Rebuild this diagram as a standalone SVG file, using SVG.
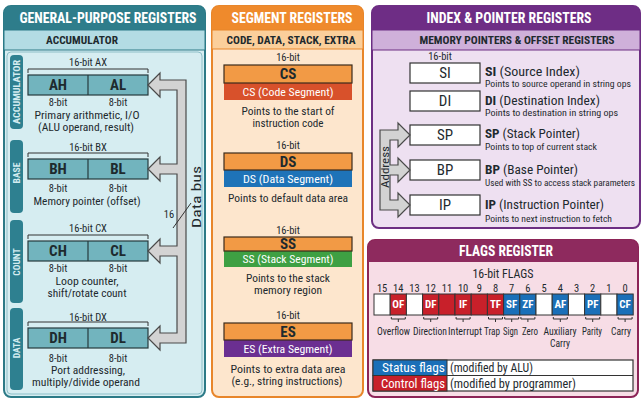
<svg xmlns="http://www.w3.org/2000/svg" width="644" height="401" viewBox="0 0 644 401">
<style>
text{font-family:"Liberation Sans Narrow","Roboto Condensed","DejaVu Sans Condensed","Liberation Sans",sans-serif;fill:#1e2a2e;text-anchor:middle;dominant-baseline:central}
.h{font-size:15px;font-weight:bold;fill:#fff}
.sh{font-size:11.5px;font-weight:bold}
.lb{font-size:10.5px}
.reg{font-size:15px;font-weight:bold}
.d{font-size:11px}
.vb{font-size:9.5px;font-weight:bold;fill:#d3ecf0}
.gr{fill:#72b4be;stroke:#26393d;stroke-width:1.2}
.brk{fill:none;stroke:#333;stroke-width:1}
.bus{fill:#d3d3d3;stroke:#4a4a4a;stroke-width:1.2}
.seg{fill:#f29a45;stroke:#3b2b1b;stroke-width:1.2}
.sw{font-size:11.5px;fill:#fff}
.ib{fill:#fff;stroke:#333;stroke-width:1.2}
.nm{font-size:13px;text-anchor:start}
.sm{font-size:9px;text-anchor:start}
.bit{font-size:10.5px}
.fl{font-size:11px;font-weight:bold;fill:#fff}
.cell{stroke:#333;stroke-width:1}
.fn{font-size:10.5px}
</style>

<!-- GENERAL PURPOSE PANEL -->
<g id="gp-panel">
<rect x="4" y="6" width="201" height="391" rx="7" fill="#d6edf1" stroke="#2c7a87" stroke-width="2"/>
<path d="M4,30 V13 A7,7 0 0 1 11,6 H198 A7,7 0 0 1 205,13 V30 Z" fill="#2e7d8b"/>
<rect x="4" y="30" width="201" height="20" fill="#b3dce4" stroke="#2c7a87" stroke-width="1"/>
<text class="h" x="108" y="18" textLength="177" lengthAdjust="spacingAndGlyphs">GENERAL-PURPOSE REGISTERS</text>
<text class="sh" x="82" y="40" textLength="72" lengthAdjust="spacingAndGlyphs">ACCUMULATOR</text>
<rect x="7" y="52" width="195" height="342" rx="4" fill="none" stroke="#8dbfc8" stroke-width="1"/>
<rect x="10" y="55" width="13" height="74" rx="4" fill="#2e8090"/>
<text class="vb" transform="translate(16.5,92) rotate(-90)" textLength="64" lengthAdjust="spacingAndGlyphs">ACCUMULATOR</text>
<rect x="10" y="140" width="13" height="73" rx="4" fill="#2e8090"/>
<text class="vb" transform="translate(16.5,173) rotate(-90)">BASE</text>
<rect x="10" y="220" width="13" height="83" rx="4" fill="#2e8090"/>
<text class="vb" transform="translate(16.5,262) rotate(-90)">COUNT</text>
<rect x="10" y="308" width="13" height="82" rx="4" fill="#2e8090"/>
<text class="vb" transform="translate(16.5,348) rotate(-90)">DATA</text>
</g>

<g id="reg-ax">
<text class="lb" x="88" y="62">16-bit AX</text>
<path class="brk" d="M28,73 V69 H148 V73"/>
<rect class="gr" x="28" y="75" width="120" height="20"/>
<line x1="88" y1="75" x2="88" y2="95" stroke="#26393d" stroke-width="1.2"/>
<text class="reg" x="58" y="85">AH</text><text class="reg" x="118" y="85">AL</text>
<text class="lb" x="58" y="102">8-bit</text><text class="lb" x="118" y="102">8-bit</text>
<text class="d" x="87" y="115" textLength="105" lengthAdjust="spacingAndGlyphs">Primary arithmetic, I/O</text>
<text class="d" x="86" y="127" textLength="96" lengthAdjust="spacingAndGlyphs">(ALU operand, result)</text>
</g>

<g id="reg-bx">
<text class="lb" x="88" y="147">16-bit BX</text>
<path class="brk" d="M28,157 V153 H148 V157"/>
<rect class="gr" x="28" y="159" width="120" height="20"/>
<line x1="88" y1="159" x2="88" y2="179" stroke="#26393d" stroke-width="1.2"/>
<text class="reg" x="58" y="169">BH</text><text class="reg" x="118" y="169">BL</text>
<text class="lb" x="58" y="188">8-bit</text><text class="lb" x="118" y="188">8-bit</text>
<text class="d" x="87" y="201" textLength="107" lengthAdjust="spacingAndGlyphs">Memory pointer (offset)</text>
</g>

<g id="reg-cx">
<text class="lb" x="88" y="228">16-bit CX</text>
<path class="brk" d="M28,239 V235 H148 V239"/>
<rect class="gr" x="28" y="241" width="120" height="20"/>
<line x1="88" y1="241" x2="88" y2="261" stroke="#26393d" stroke-width="1.2"/>
<text class="reg" x="58" y="251">CH</text><text class="reg" x="118" y="251">CL</text>
<text class="lb" x="58" y="268">8-bit</text><text class="lb" x="118" y="268">8-bit</text>
<text class="d" x="87" y="281.5" textLength="63" lengthAdjust="spacingAndGlyphs">Loop counter,</text>
<text class="d" x="87" y="293.5" textLength="79" lengthAdjust="spacingAndGlyphs">shift/rotate count</text>
</g>

<g id="reg-dx">
<text class="lb" x="88" y="317">16-bit DX</text>
<path class="brk" d="M28,326 V322 H148 V326"/>
<rect class="gr" x="28" y="328" width="120" height="20"/>
<line x1="88" y1="328" x2="88" y2="348" stroke="#26393d" stroke-width="1.2"/>
<text class="reg" x="58" y="338">DH</text><text class="reg" x="118" y="338">DL</text>
<text class="lb" x="58" y="358">8-bit</text><text class="lb" x="118" y="358">8-bit</text>
<text class="d" x="88" y="370" textLength="74" lengthAdjust="spacingAndGlyphs">Port addressing,</text>
<text class="d" x="86" y="382" textLength="108" lengthAdjust="spacingAndGlyphs">multiply/divide operand</text>
</g>

<!-- SEGMENT PANEL -->
<g id="seg-panel">
<rect x="212" y="6" width="151" height="391" rx="7" fill="#fde6cd" stroke="#e8862a" stroke-width="2"/>
<path d="M212,30 V13 A7,7 0 0 1 219,6 H356 A7,7 0 0 1 363,13 V30 Z" fill="#ef8a2c"/>
<rect x="212" y="30" width="151" height="19" fill="#fbcf9b" stroke="#e8862a" stroke-width="1"/>
<text class="h" x="292" y="18" textLength="121" lengthAdjust="spacingAndGlyphs">SEGMENT REGISTERS</text>
<text class="sh" x="291" y="40" textLength="129" lengthAdjust="spacingAndGlyphs">CODE, DATA, STACK, EXTRA</text>
</g>

<g id="seg-cs">
<text class="lb" x="288" y="57">16-bit</text>
<rect x="224" y="83" width="128" height="17" fill="#d8512b"/>
<rect class="seg" x="224" y="65" width="128" height="18"/>
<text class="reg" x="288" y="74">CS</text>
<text class="sw" x="288" y="92" textLength="91" lengthAdjust="spacingAndGlyphs">CS (Code Segment)</text>
<text class="d" x="288" y="111" textLength="93" lengthAdjust="spacingAndGlyphs">Points to the start of</text>
<text class="d" x="288" y="123" textLength="71" lengthAdjust="spacingAndGlyphs">instruction code</text>
</g>

<g id="seg-ds">
<text class="lb" x="288" y="145">16-bit</text>
<rect x="224" y="170" width="128" height="17" fill="#1e73b8"/>
<rect class="seg" x="224" y="153" width="128" height="17"/>
<text class="reg" x="288" y="161.5">DS</text>
<text class="sw" x="288" y="179" textLength="90" lengthAdjust="spacingAndGlyphs">DS (Data Segment)</text>
<text class="d" x="288" y="198" textLength="120" lengthAdjust="spacingAndGlyphs">Points to default data area</text>
</g>

<g id="seg-ss">
<text class="lb" x="288" y="230">16-bit</text>
<rect x="224" y="251" width="128" height="16" fill="#3ea043"/>
<rect class="seg" x="224" y="237" width="128" height="14"/>
<text class="reg" x="288" y="244">SS</text>
<text class="sw" x="288" y="259" textLength="91" lengthAdjust="spacingAndGlyphs">SS (Stack Segment)</text>
<text class="d" x="288" y="278" textLength="84" lengthAdjust="spacingAndGlyphs">Points to the stack</text>
<text class="d" x="288" y="290" textLength="68" lengthAdjust="spacingAndGlyphs">memory region</text>
</g>

<g id="seg-es">
<text class="lb" x="288" y="315">16-bit</text>
<rect x="224" y="340" width="128" height="17" fill="#6b2f91"/>
<rect class="seg" x="224" y="323" width="128" height="17"/>
<text class="reg" x="288" y="331.5">ES</text>
<text class="sw" x="288" y="349" textLength="89" lengthAdjust="spacingAndGlyphs">ES (Extra Segment)</text>
<text class="d" x="288" y="369" textLength="115" lengthAdjust="spacingAndGlyphs">Points to extra data area</text>
<text class="d" x="287" y="381" textLength="111" lengthAdjust="spacingAndGlyphs">(e.g., string instructions)</text>
</g>

<!-- INDEX & POINTER PANEL -->
<g id="ip-panel">
<rect x="372" y="6" width="268" height="222" rx="7" fill="#eee0f1" stroke="#6d2f83" stroke-width="2"/>
<path d="M372,30 V13 A7,7 0 0 1 379,6 H633 A7,7 0 0 1 640,13 V30 Z" fill="#6e2d85"/>
<rect x="372" y="30" width="268" height="20" fill="#cfb0da" stroke="#6d2f83" stroke-width="1"/>
<text class="h" x="509" y="18" textLength="165" lengthAdjust="spacingAndGlyphs">INDEX &amp; POINTER REGISTERS</text>
<text class="sh" x="517" y="40" textLength="195" lengthAdjust="spacingAndGlyphs">MEMORY POINTERS &amp; OFFSET REGISTERS</text>
<text class="lb" x="440" y="56">16-bit</text>
</g>

<g id="reg-si">
<rect class="ib" x="410" y="63" width="70" height="20"/>
<text class="reg" x="445" y="73" style="font-weight:normal">SI</text>
<text class="nm" x="485" y="71" textLength="95" lengthAdjust="spacingAndGlyphs"><tspan font-weight="bold">SI</tspan> (Source Index)</text>
<text class="sm" x="485" y="84" textLength="146" lengthAdjust="spacingAndGlyphs">Points to source operand in string ops</text>
</g>
<g id="reg-di">
<rect class="ib" x="410" y="91" width="70" height="20"/>
<text class="reg" x="445" y="101" style="font-weight:normal">DI</text>
<text class="nm" x="485" y="100" textLength="115" lengthAdjust="spacingAndGlyphs"><tspan font-weight="bold">DI</tspan> (Destination Index)</text>
<text class="sm" x="485" y="113" textLength="133" lengthAdjust="spacingAndGlyphs">Points to destination in string ops</text>
</g>
<g id="reg-sp">
<rect class="ib" x="410" y="125" width="70" height="20"/>
<text class="reg" x="445" y="135" style="font-weight:normal">SP</text>
<text class="nm" x="485" y="133" textLength="95" lengthAdjust="spacingAndGlyphs"><tspan font-weight="bold">SP</tspan> (Stack Pointer)</text>
<text class="sm" x="485" y="147" textLength="112" lengthAdjust="spacingAndGlyphs">Points to top of current stack</text>
</g>
<g id="reg-bp">
<rect class="ib" x="410" y="160" width="70" height="20"/>
<text class="reg" x="445" y="170" style="font-weight:normal">BP</text>
<text class="nm" x="485" y="169" textLength="93" lengthAdjust="spacingAndGlyphs"><tspan font-weight="bold">BP</tspan> (Base Pointer)</text>
<text class="sm" x="485" y="183" textLength="150" lengthAdjust="spacingAndGlyphs">Used with SS to access stack parameters</text>
</g>
<g id="reg-ip">
<rect class="ib" x="410" y="195" width="70" height="20"/>
<text class="reg" x="445" y="205" style="font-weight:normal">IP</text>
<text class="nm" x="485" y="204" textLength="119" lengthAdjust="spacingAndGlyphs"><tspan font-weight="bold">IP</tspan> (Instruction Pointer)</text>
<text class="sm" x="485" y="219" textLength="127" lengthAdjust="spacingAndGlyphs">Points to next instruction to fetch</text>
</g>

<!-- FLAGS PANEL -->
<g id="flags-panel">
<rect x="368" y="240" width="270" height="157" rx="7" fill="#f7dde6" stroke="#8c2457" stroke-width="2"/>
<path d="M368,262 V247 A7,7 0 0 1 375,240 H631 A7,7 0 0 1 638,247 V262 Z" fill="#8e2a5e"/>
<text class="h" x="506" y="251" textLength="94" lengthAdjust="spacingAndGlyphs">FLAGS REGISTER</text>
<text class="sh" x="503" y="274" style="font-size:12px;font-weight:normal" textLength="61" lengthAdjust="spacingAndGlyphs">16-bit FLAGS</text>
</g>

<g id="flags-bits">
<text class="bit" x="382.1" y="288">15</text>
<text class="bit" x="398.3" y="288">14</text>
<text class="bit" x="414.5" y="288">13</text>
<text class="bit" x="430.7" y="288">12</text>
<text class="bit" x="446.9" y="288">11</text>
<text class="bit" x="463.1" y="288">10</text>
<text class="bit" x="479.3" y="288">9</text>
<text class="bit" x="495.5" y="288">8</text>
<text class="bit" x="511.7" y="288">7</text>
<text class="bit" x="527.9" y="288">6</text>
<text class="bit" x="544.1" y="288">5</text>
<text class="bit" x="560.3" y="288">4</text>
<text class="bit" x="576.5" y="288">3</text>
<text class="bit" x="592.7" y="288">2</text>
<text class="bit" x="608.9" y="288">1</text>
<text class="bit" x="625.1" y="288">0</text>
<rect class="cell" x="374" y="294" width="16.2" height="21" fill="#fff"/>
<rect class="cell" x="390.2" y="294" width="16.2" height="21" fill="#c8202a"/>
<rect class="cell" x="406.4" y="294" width="16.2" height="21" fill="#fff"/>
<rect class="cell" x="422.6" y="294" width="16.2" height="21" fill="#c8202a"/>
<rect class="cell" x="438.8" y="294" width="16.2" height="21" fill="#c8202a"/>
<rect class="cell" x="455" y="294" width="16.2" height="21" fill="#c8202a"/>
<rect class="cell" x="471.2" y="294" width="16.2" height="21" fill="#c8202a"/>
<rect class="cell" x="487.4" y="294" width="16.2" height="21" fill="#c8202a"/>
<rect class="cell" x="503.6" y="294" width="16.2" height="21" fill="#1a6fb8"/>
<rect class="cell" x="519.8" y="294" width="16.2" height="21" fill="#1a6fb8"/>
<rect class="cell" x="536" y="294" width="16.2" height="21" fill="#fff"/>
<rect class="cell" x="552.2" y="294" width="16.2" height="21" fill="#1a6fb8"/>
<rect class="cell" x="568.4" y="294" width="16.2" height="21" fill="#fff"/>
<rect class="cell" x="584.6" y="294" width="16.2" height="21" fill="#1a6fb8"/>
<rect class="cell" x="600.8" y="294" width="16.2" height="21" fill="#fff"/>
<rect class="cell" x="617" y="294" width="16.2" height="21" fill="#1a6fb8"/>
<text class="fl" x="398.3" y="304.5">OF</text>
<text class="fl" x="430.7" y="304.5">DF</text>
<text class="fl" x="463.1" y="304.5">IF</text>
<text class="fl" x="495.5" y="304.5">TF</text>
<text class="fl" x="511.7" y="304.5">SF</text>
<text class="fl" x="527.9" y="304.5">ZF</text>
<text class="fl" x="560.3" y="304.5">AF</text>
<text class="fl" x="592.7" y="304.5">PF</text>
<text class="fl" x="625.1" y="304.5">CF</text>
<path class="brk" d="M391.3,317 V319 H405.3 V317 M398.3,319 V322 M423.7,317 V319 H437.7 V317 M430.7,319 V322 M456.1,317 V319 H470.1 V317 M463.1,319 V322 M488.5,317 V319 H502.5 V317 M495.5,319 V322 M504.7,317 V319 H518.7 V317 M511.7,319 V322 M520.9,317 V319 H534.9 V317 M527.9,319 V322 M553.3,317 V319 H567.3 V317 M560.3,319 V322 M585.7,317 V319 H599.7 V317 M592.7,319 V322 M618.1,317 V319 H632.1 V317 M625.1,319 V322"/>
<text class="fn" x="393.5" y="331" textLength="33" lengthAdjust="spacingAndGlyphs">Overflow</text>
<text class="fn" x="430" y="331" textLength="34" lengthAdjust="spacingAndGlyphs">Direction</text>
<text class="fn" x="465" y="331" textLength="34" lengthAdjust="spacingAndGlyphs">Interrupt</text>
<text class="fn" x="492" y="331" textLength="16" lengthAdjust="spacingAndGlyphs">Trap</text>
<text class="fn" x="510.5" y="331" textLength="15" lengthAdjust="spacingAndGlyphs">Sign</text>
<text class="fn" x="530" y="331" textLength="16" lengthAdjust="spacingAndGlyphs">Zero</text>
<text class="fn" x="560" y="331" textLength="33" lengthAdjust="spacingAndGlyphs">Auxiliary</text>
<text class="fn" x="560" y="343" textLength="20" lengthAdjust="spacingAndGlyphs">Carry</text>
<text class="fn" x="592" y="331" textLength="20" lengthAdjust="spacingAndGlyphs">Parity</text>
<text class="fn" x="621" y="331" textLength="20" lengthAdjust="spacingAndGlyphs">Carry</text>
</g>

<g id="flags-legend">
<rect x="373" y="360" width="260" height="31" fill="#fff" stroke="#333" stroke-width="1.2"/>
<rect x="373" y="360" width="74" height="15.5" fill="#1a6fb8" stroke="#333" stroke-width="1"/>
<rect x="373" y="375.5" width="74" height="15.5" fill="#c8202a" stroke="#333" stroke-width="1"/>
<line x1="447" y1="375.5" x2="633" y2="375.5" stroke="#333" stroke-width="1"/>
<text x="445" y="368" style="font-size:12px;text-anchor:end;fill:#fff" textLength="63" lengthAdjust="spacingAndGlyphs">Status flags</text>
<text x="445" y="383.5" style="font-size:12px;text-anchor:end;fill:#fff" textLength="64" lengthAdjust="spacingAndGlyphs">Control flags</text>
<text x="450" y="368" style="font-size:12px;text-anchor:start" textLength="83" lengthAdjust="spacingAndGlyphs">(modified by ALU)</text>
<text x="450" y="383.5" style="font-size:12px;text-anchor:start" textLength="126" lengthAdjust="spacingAndGlyphs">(modified by programmer)</text>
</g>

<!-- CONNECTORS -->
<g id="connectors">
<path class="bus" d="M148,85 L160,73 L160,80 L186,80 L186,343 L160,343 L160,350 L148,338 L160,326 L160,333 L177,333 L177,256 L160,256 L160,263 L148,251 L160,239 L160,246 L177,246 L177,174 L160,174 L160,181 L148,169 L160,157 L160,164 L177,164 L177,90 L160,90 L160,97 Z"/>
<line x1="173" y1="228" x2="191" y2="203" stroke="#333" stroke-width="1"/>
<text class="lb" x="169" y="214">16</text>
<text transform="translate(197,197) rotate(-90)" style="font-size:12px" textLength="62" lengthAdjust="spacingAndGlyphs">Data bus</text>
<path class="bus" d="M410,135 L398,123 L398,130 L380,130 L380,210 L398,210 L398,217 L410,205 L398,193 L398,200 L390,200 L390,175 L398,175 L398,182 L410,170 L398,158 L398,165 L390,165 L390,140 L398,140 L398,147 Z"/>
<text transform="translate(385.5,167) rotate(-90)" style="font-size:11px" textLength="42" lengthAdjust="spacingAndGlyphs">Address</text>
</g>
</svg>
